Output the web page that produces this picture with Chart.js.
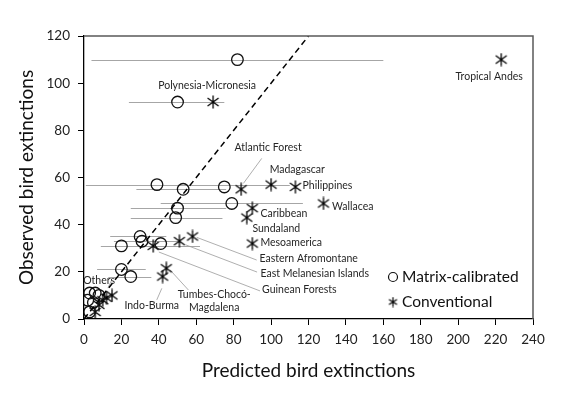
<!DOCTYPE html>
<html>
<head>
<meta charset="utf-8">
<script src="https://cdn.jsdelivr.net/npm/chart.js@4"></script>
<style>
  html, body { margin: 0; padding: 0; background: #fff; }
</style>
</head>
<body>
<canvas id="birdChart" width="567" height="397"></canvas>
<script>
// Matrix-calibrated estimates (circles) with horizontal confidence ranges
const matrixX    = [82, 50, 39, 53, 75, 79, 50, 49, 30, 31, 20, 41, 20, 25, 3, 6, 8, 2, 3, 5];
const matrixY    = [110, 92, 57, 55, 56, 49, 47, 43, 35, 33, 31, 32, 21, 18, 11, 11, 10, 8, 3, 7];
const matrixLow  = [4, 24, 1, 28, null, 41, 25, 25, 14, 16, 9, null, 7, 13, null, null, null, null, null, null];
const matrixHigh = [160, 75, 110, 76, null, 117, 76, 74, 44, 51, 62, null, 33, 36, null, null, null, null, null, null];

// Conventional estimates (asterisks)
const convX = [223, 69, 84, 100, 113, 128, 90, 87, 90, 58, 51, 37, 44, 42, 15, 10, 6, 12, 8];
const convY = [110, 92, 55, 57, 56, 49, 47, 43, 32, 35, 33, 31, 21.5, 18, 10, 8, 3, 9, 6];

// 1:1 reference line
const diagX = [0, 120];
const diagY = [0, 120];

const xTicks = [0, 240, 20];
const yTicks = [0, 120, 20];

// Region labels (data coordinates)
const labelText  = ['Polynesia-Micronesia', 'Tropical Andes', 'Atlantic Forest', 'Madagascar', 'Philippines',
                    'Wallacea', 'Caribbean', 'Sundaland', 'Mesoamerica', 'Eastern Afromontane',
                    'East Melanesian Islands', 'Guinean Forests', 'Tumbes-Chocó-', 'Magdalena', 'Indo-Burma', 'Others'];
const labelX     = [65.8, 216.6, 98.4, 114, 116.8, 132.6, 94.3, 90, 94.3, 93.8, 94.3, 95.2, 69.6, 69.6, 36.2, 8.1];
const labelY     = [98.8, 102.6, 72.5, 63.4, 56.5, 47.6, 44.8, 38.5, 32.4, 25.4, 19.4, 12.6, 10.2, 5.0, 5.5, 16.2];
const labelAlign = ['center', 'center', 'center', 'center', 'left', 'left', 'left', 'left', 'left', 'left',
                    'left', 'left', 'center', 'center', 'center', 'center'];

// Leader lines: [x1, y1, x2, y2]
const leaders = [
    [95, 68.1, 85.2, 57.5],
    [60.3, 34.6, 92.3, 25],
    [54.5, 31.4, 92.5, 19.9],
    [40, 28.4, 94.1, 11.9],
    [46, 20.8, 55.8, 12.3],
    [41.6, 13, 38.9, 8.1],
    [14.8, 16.5, 12.8, 13.1]
];

Chart.defaults.font.family = 'Lato, "Liberation Sans", sans-serif';
Chart.defaults.color = '#222';

// asterisk marker: X with a vertical stroke
function makeAsterisk(size, lw) {
    const c = document.createElement('canvas');
    c.width = size; c.height = size;
    const g = c.getContext('2d');
    const m = 1.5, s = size - 1.5;
    g.strokeStyle = '#000';
    g.lineWidth = lw;
    g.beginPath();
    g.moveTo(m, m + 1.5); g.lineTo(s, s - 1.5);
    g.moveTo(s, m + 1.5); g.lineTo(m, s - 1.5);
    g.moveTo(size / 2, 0.5); g.lineTo(size / 2, size - 0.5);
    g.stroke();
    return c;
}
const asterisk = makeAsterisk(14, 1.3);
const asteriskSmall = makeAsterisk(11, 1.2);

const overlayPlugin = {
    id: 'overlay',
    beforeDatasetsDraw(chart) {
        const { ctx, scales: { x, y } } = chart;
        ctx.save();
        // error bars
        ctx.strokeStyle = '#a6a6a6';
        ctx.lineWidth = 1;
        matrixX.forEach((v, i) => {
            if (matrixLow[i] == null) return;
            const py = Math.round(y.getPixelForValue(matrixY[i])) + 0.5;
            ctx.beginPath();
            ctx.moveTo(x.getPixelForValue(matrixLow[i]), py);
            ctx.lineTo(x.getPixelForValue(matrixHigh[i]), py);
            ctx.stroke();
        });
        // leader lines
        ctx.strokeStyle = '#9a9a9a';
        ctx.lineWidth = 0.8;
        leaders.forEach(l => {
            ctx.beginPath();
            ctx.moveTo(x.getPixelForValue(l[0]), y.getPixelForValue(l[1]));
            ctx.lineTo(x.getPixelForValue(l[2]), y.getPixelForValue(l[3]));
            ctx.stroke();
        });
        ctx.restore();
    },
    afterDatasetsDraw(chart) {
        const { ctx, scales: { x, y } } = chart;
        ctx.save();
        ctx.font = '10.5px Lato, sans-serif';
        ctx.fillStyle = '#262626';
        ctx.textBaseline = 'middle';
        labelText.forEach((t, i) => {
            ctx.textAlign = labelAlign[i];
            ctx.fillText(t, x.getPixelForValue(labelX[i]), y.getPixelForValue(labelY[i]));
        });
        ctx.restore();
    },
    afterDraw(chart) {
        const { ctx, chartArea: a } = chart;
        ctx.save();
        // top and right frame
        ctx.strokeStyle = '#595959';
        ctx.lineWidth = 1.5;
        ctx.beginPath();
        ctx.moveTo(a.left, a.top);
        ctx.lineTo(a.right, a.top);
        ctx.lineTo(a.right, a.bottom);
        ctx.stroke();

        // legend
        const lx = a.right - 140, ly1 = a.bottom - 42, ly2 = a.bottom - 17;
        ctx.strokeStyle = '#111';
        ctx.lineWidth = 1.2;
        ctx.beginPath();
        ctx.arc(lx, ly1, 4.5, 0, Math.PI * 2);
        ctx.stroke();
        ctx.drawImage(asteriskSmall, lx - 5.5, ly2 - 5.5);
        ctx.font = '15.5px Lato, sans-serif';
        ctx.fillStyle = '#111';
        ctx.textAlign = 'left';
        ctx.textBaseline = 'middle';
        ctx.fillText('Matrix-calibrated', lx + 9, ly1);
        ctx.fillText('Conventional', lx + 9, ly2);
        ctx.restore();
    }
};

new Chart(document.getElementById('birdChart'), {
    type: 'scatter',
    data: {
        datasets: [
            {
                label: '1:1',
                data: diagX.map((v, i) => ({ x: v, y: diagY[i] })),
                showLine: true,
                pointRadius: 0,
                borderColor: '#000',
                borderWidth: 1.5,
                borderDash: [6, 4]
            },
            {
                label: 'Matrix-calibrated',
                data: matrixX.map((v, i) => ({ x: v, y: matrixY[i] })),
                pointStyle: 'circle',
                pointRadius: 5.8,
                borderColor: '#111',
                borderWidth: 1.3,
                backgroundColor: 'rgba(0,0,0,0)'
            },
            {
                label: 'Conventional',
                data: convX.map((v, i) => ({ x: v, y: convY[i] })),
                pointStyle: asterisk,
                pointRadius: 7
            }
        ]
    },
    options: {
        responsive: false,
        animation: false,
        layout: { padding: { left: 0, right: 34, top: 36, bottom: 0 } },
        plugins: { legend: { display: false }, tooltip: { enabled: false } },
        scales: {
            x: {
                type: 'linear',
                min: xTicks[0], max: xTicks[1],
                afterFit: s => { s.height = 78; },
                ticks: { stepSize: xTicks[2], padding: 7, font: { size: 13.5 }, color: '#222' },
                grid: { drawOnChartArea: false, drawTicks: true, tickLength: 6, color: '#000' },
                border: { display: true, color: '#000', width: 1.3 },
                title: { display: true, text: 'Predicted bird extinctions', font: { size: 19 }, color: '#111', padding: { top: 0, bottom: 15 } }
            },
            y: {
                type: 'linear',
                min: yTicks[0], max: yTicks[1],
                afterFit: s => { s.width = 84; },
                ticks: { stepSize: yTicks[2], padding: 8, font: { size: 13.5 }, color: '#222' },
                grid: { drawOnChartArea: false, drawTicks: true, tickLength: 6, color: '#000' },
                border: { display: true, color: '#000', width: 1.3 },
                title: { display: true, text: 'Observed bird extinctions', font: { size: 19 }, color: '#111', padding: { top: 15, bottom: 0 } }
            }
        }
    },
    plugins: [overlayPlugin]
});
</script>
</body>
</html>
